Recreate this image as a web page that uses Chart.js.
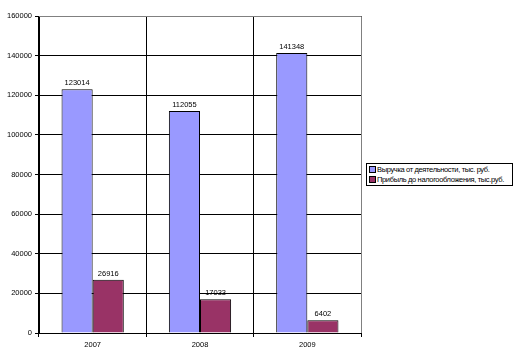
<!DOCTYPE html>
<html>
<head>
<meta charset="utf-8">
<script src="https://cdn.jsdelivr.net/npm/chart.js@4"></script>
<style>
  html, body { margin: 0; padding: 0; background: #fff; }
  #wrap { position: relative; width: 515px; height: 362px; }
  #legend {
    position: absolute; left: 366px; top: 163px; width: 147px; height: 23px;
    border: 1px solid #000; background: #fff;
    font-family: "Liberation Sans", Arial, sans-serif; font-size: 7.5px; color: #000;
    letter-spacing: -0.35px;
    box-sizing: border-box; padding: 1px 0 0 2px; line-height: 10px; white-space: nowrap; overflow: hidden;
  }
  #legend span.sw {
    display: inline-block; width: 5px; height: 5px; border: 1px solid #000;
    margin-right: 1px; vertical-align: -1px;
  }
</style>
</head>
<body>
<div id="wrap">
  <canvas id="c" width="515" height="362"></canvas>
  <div id="legend"></div>
</div>
<script>
const years = ["2007", "2008", "2009"];
const revenue = [123014, 112055, 141348];
const profit = [26916, 17033, 6402];
const seriesNames = ["Выручка от деятельности, тыс. руб.", "Прибыль до налогообложения, тыс.руб."];
const seriesColors = ["#9999ff", "#993366"];

const font = "Liberation Sans, Arial, sans-serif";

// подписи значений над столбцами
const valueLabels = {
  id: "valueLabels",
  afterDatasetsDraw(chart) {
    const ctx = chart.ctx;
    ctx.save();
    ctx.font = "7.5px " + font;
    ctx.fillStyle = "#000";
    ctx.textAlign = "center";
    ctx.textBaseline = "alphabetic";
    chart.data.datasets.forEach((ds, i) => {
      chart.getDatasetMeta(i).data.forEach((bar, j) => {
        ctx.fillText(String(ds.data[j]), bar.x, bar.y - 4);
      });
    });
    ctx.restore();
  }
};

// серая рамка сверху и справа
const plotFrame = {
  id: "plotFrame",
  afterDraw(chart) {
    const a = chart.chartArea;
    const ctx = chart.ctx;
    ctx.save();
    ctx.strokeStyle = "#808080";
    ctx.lineWidth = 1;
    ctx.beginPath();
    ctx.moveTo(a.left, Math.round(a.top) + 0.5);
    ctx.lineTo(Math.round(a.right) + 0.5, Math.round(a.top) + 0.5);
    ctx.lineTo(Math.round(a.right) + 0.5, a.bottom);
    ctx.stroke();
    ctx.restore();
  }
};

new Chart(document.getElementById("c"), {
  type: "bar",
  data: {
    labels: years,
    datasets: [
      { label: seriesNames[0], data: revenue, backgroundColor: seriesColors[0], borderColor: "#000", borderWidth: 1 },
      { label: seriesNames[1], data: profit, backgroundColor: seriesColors[1], borderColor: "#000", borderWidth: 1 }
    ]
  },
  options: {
    responsive: false,
    animation: false,
    devicePixelRatio: 1,
    layout: { padding: { top: 16, right: 154, left: 0, bottom: 0 } },
    datasets: { bar: { categoryPercentage: 0.58, barPercentage: 1 } },
    plugins: { legend: { display: false }, tooltip: { enabled: false } },
    scales: {
      x: {
        offset: true,
        grid: { offset: true, color: "#000", tickColor: "#000", tickLength: 4, drawOnChartArea: true },
        border: { color: "#000" },
        ticks: { color: "#000", font: { family: font, size: 7.5 }, padding: 3 },
        afterFit(s) { s.height = 29; }
      },
      y: {
        min: 0, max: 160000,
        grid: { color: "#000", tickColor: "#000", tickLength: 4 },
        border: { color: "#000" },
        ticks: { stepSize: 20000, color: "#000", font: { family: font, size: 7.5 }, padding: 3, callback: v => String(v) },
        afterFit(s) { s.width = 39; }
      }
    }
  },
  plugins: [valueLabels, plotFrame]
});

document.getElementById("legend").innerHTML = seriesNames
  .map((n, i) => `<div><span class="sw" style="background:${seriesColors[i]}"></span>${n}</div>`)
  .join("");
</script>
</body>
</html>
